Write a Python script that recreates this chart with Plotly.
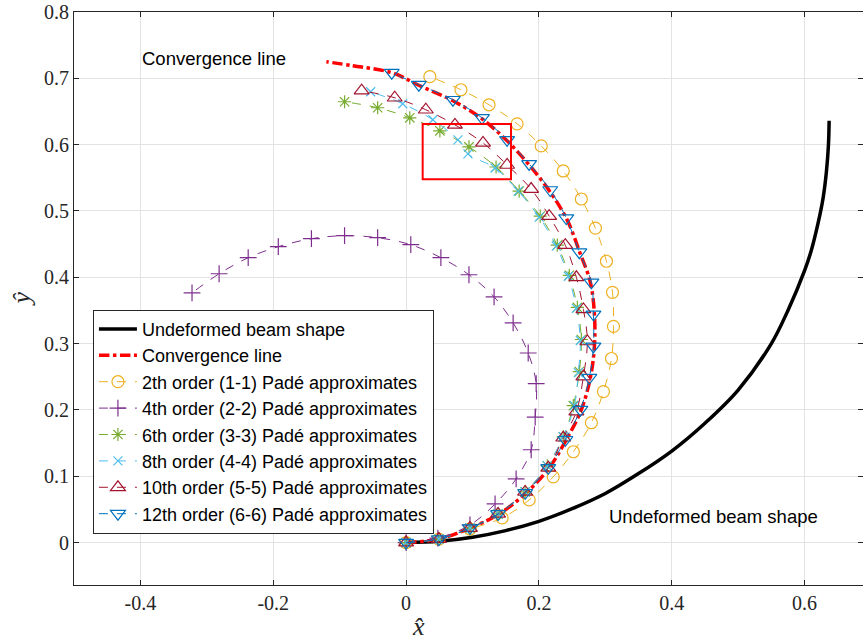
import plotly.graph_objects as go

# beam (undeformed) shape
beam_x = [0, 0.05, 0.1, 0.15, 0.2, 0.25, 0.3, 0.35, 0.4, 0.45, 0.5, 0.55, 0.575, 0.6, 0.61, 0.62, 0.628, 0.633, 0.636, 0.637]
beam_y = [0, 0.002, 0.008, 0.018, 0.032, 0.051, 0.074, 0.104, 0.138, 0.18, 0.23, 0.3, 0.35, 0.41, 0.44, 0.48, 0.52, 0.56, 0.6, 0.636]

conv_x = [0, 0.0494, 0.0962, 0.1400, 0.1808, 0.2155, 0.2412, 0.2639, 0.2775, 0.2836, 0.2836, 0.2775,
          0.2609, 0.2427, 0.2170, 0.1853, 0.1521, 0.1143, 0.0705, 0.0207, -0.0216, -0.0807, -0.1200]
conv_y = [0, 0.0053, 0.0219, 0.0431, 0.0749, 0.1127, 0.1550, 0.2004, 0.2487, 0.2957, 0.3441, 0.3924,
          0.4393, 0.4862, 0.5286, 0.5694, 0.6057, 0.6390, 0.6662, 0.6888, 0.7085, 0.7190, 0.7250]

p2_x = [0, 0.0494, 0.0962, 0.1446, 0.1854, 0.2216, 0.2519, 0.2790, 0.2972, 0.3093, 0.3123,
        0.3108, 0.3017, 0.2851, 0.2639, 0.2367, 0.2035, 0.1672, 0.1249, 0.0826, 0.0358]
p2_y = [0, 0.0053, 0.0204, 0.0371, 0.0643, 0.0991, 0.1369, 0.1807, 0.2276, 0.2775, 0.3259,
        0.3773, 0.4242, 0.4741, 0.5180, 0.5603, 0.5981, 0.6314, 0.6601, 0.6828, 0.7025]

p4_x = [0, 0.0479, 0.0962, 0.1340, 0.1657, 0.1884, 0.1944, 0.1959, 0.1839, 0.1612, 0.1325,
        0.0947, 0.0524, 0.0071, -0.0428, -0.0926, -0.1425, -0.1924, -0.2377, -0.2815, -0.3223]
p4_y = [0, 0.0068, 0.0265, 0.0582, 0.0960, 0.1399, 0.1890, 0.2397, 0.2858, 0.3312, 0.3705,
        0.4038, 0.4295, 0.4491, 0.4597, 0.4627, 0.4582, 0.4461, 0.4295, 0.4053, 0.3765]

p6_x = [0, 0.0494, 0.0962, 0.1385, 0.1793, 0.2126, 0.2367, 0.2518, 0.2609, 0.2639, 0.2579,
        0.2458, 0.2277, 0.2020, 0.1703, 0.1355, 0.0947, 0.0509, 0.0056, -0.0428, -0.0926]
p6_y = [0, 0.0053, 0.0219, 0.0431, 0.0764, 0.1157, 0.1595, 0.2064, 0.2578, 0.3062, 0.3546,
        0.4030, 0.4484, 0.4922, 0.5300, 0.5663, 0.5966, 0.6208, 0.6405, 0.6556, 0.6647]

p8_x = [0, 0.0494, 0.0962, 0.1385, 0.1793, 0.2126, 0.2367, 0.2534, 0.2594, 0.2624, 0.2564,
        0.2443, 0.2262, 0.2005, 0.1688, 0.1340, 0.0932, 0.0781, 0.0403, -0.0050, -0.0533]
p8_y = [0, 0.0053, 0.0219, 0.0431, 0.0764, 0.1157, 0.1595, 0.2064, 0.2563, 0.3047, 0.3531,
        0.4015, 0.4469, 0.4907, 0.5300, 0.5648, 0.5860, 0.6072, 0.6375, 0.6617, 0.6798]

p10_x = [0, 0.0494, 0.0962, 0.1385, 0.1793, 0.2141, 0.2367, 0.2564, 0.2670, 0.2730, 0.2670,
         0.2564, 0.2397, 0.2155, 0.1883, 0.1521, 0.1159, 0.0736, 0.0297, -0.0171, -0.0669]
p10_y = [0, 0.0053, 0.0219, 0.0431, 0.0764, 0.1127, 0.1580, 0.1973, 0.2503, 0.3032, 0.3516,
         0.4000, 0.4484, 0.4922, 0.5330, 0.5693, 0.6026, 0.6298, 0.6526, 0.6707, 0.6813]

p12_x = [0, 0.0494, 0.0962, 0.1385, 0.1793, 0.2141, 0.2398, 0.2624, 0.2760, 0.2821, 0.2821,
         0.2790, 0.2609, 0.2412, 0.2170, 0.1853, 0.1521, 0.1143, 0.0705, 0.0192, -0.0216]
p12_y = [0, 0.0053, 0.0219, 0.0431, 0.0749, 0.1127, 0.1550, 0.2004, 0.2487, 0.2957, 0.3441,
         0.3924, 0.4378, 0.4893, 0.5316, 0.5709, 0.6072, 0.6405, 0.6677, 0.6904, 0.7085]

# zoom box drawn on the plot
box_x = [0.025, 0.158]
box_y = [0.548, 0.631]

fig = go.Figure()

fig.add_trace(go.Scatter(x=beam_x, y=beam_y, mode='lines', name='Undeformed beam shape',
                         line=dict(color='black', width=3.5, shape='spline')))
fig.add_trace(go.Scatter(x=conv_x, y=conv_y, mode='lines', name='Convergence line',
                         line=dict(color='#FF0000', width=3.5, dash='dashdot', shape='spline')))

series = [
    (p2_x, p2_y, '2th order (1-1) Padé approximates', '#EDB120', 'circle-open', 12),
    (p4_x, p4_y, '4th order (2-2) Padé approximates', '#7E2F8E', 'cross-thin-open', 12),
    (p6_x, p6_y, '6th order (3-3) Padé approximates', '#77AC30', 'asterisk-open', 11),
    (p8_x, p8_y, '8th order (4-4) Padé approximates', '#4DBEEE', 'x-thin-open', 9),
    (p10_x, p10_y, '10th order (5-5) Padé approximates', '#A2142F', 'triangle-up-open', 13),
    (p12_x, p12_y, '12th order (6-6) Padé approximates', '#0072BD', 'triangle-down-open', 13),
]
for sx, sy, name, col, sym, size in series:
    fig.add_trace(go.Scatter(x=sx, y=sy, mode='lines+markers', name=name,
                             line=dict(color=col, width=1, dash='dash', shape='spline'),
                             marker=dict(symbol=sym, size=size, color=col, line=dict(color=col, width=1.2))))

fig.add_shape(type='rect', x0=box_x[0], x1=box_x[1], y0=box_y[0], y1=box_y[1],
              line=dict(color='#FF0000', width=2))

fig.add_annotation(x=-0.289, y=0.730, text='Convergence line', showarrow=False,
                   font=dict(family='Liberation Sans', size=18.5, color='black'))
fig.add_annotation(x=0.463, y=0.0386, text='Undeformed beam shape', showarrow=False,
                   font=dict(family='Liberation Sans', size=18.5, color='black'))

# axis titles as annotations so the margins stay fixed
fig.add_annotation(xref='paper', yref='paper', x=0.436, y=-0.072, yanchor='middle',
                   text='<i>x\u0302</i>', showarrow=False,
                   font=dict(family='Liberation Serif', size=26, color='#262626'))
fig.add_annotation(xref='paper', yref='paper', x=-0.066, y=0.5, xanchor='center',
                   text='<i>y\u0302</i>', showarrow=False, textangle=-90,
                   font=dict(family='Liberation Serif', size=26, color='#262626'))

axis_common = dict(showgrid=True, gridcolor='#E3E3E3', gridwidth=1, zeroline=False,
                   showline=True, linecolor='#262626', linewidth=1, mirror='allticks',
                   ticks='inside', ticklen=5, tickcolor='#262626', automargin=False,
                   tickfont=dict(family='Liberation Serif', size=20, color='#262626'))

fig.update_layout(
    width=863, height=641,
    margin=dict(l=74, r=0, t=12, b=56),
    plot_bgcolor='white', paper_bgcolor='white',
    xaxis=dict(range=[-0.5, 0.688], tickvals=[-0.4, -0.2, 0, 0.2, 0.4, 0.6],
               ticktext=['-0.4', '-0.2', '0', '0.2', '0.4', '0.6'], **axis_common),
    yaxis=dict(range=[-0.064, 0.8], tickvals=[0, 0.1, 0.2, 0.3, 0.4, 0.5, 0.6, 0.7, 0.8],
               ticktext=['0', '0.1', '0.2', '0.3', '0.4', '0.5', '0.6', '0.7', '0.8'], **axis_common),
    legend=dict(x=0.024, y=0.285, xanchor='left', yanchor='middle',
                bgcolor='white', bordercolor='#262626', borderwidth=1,
                font=dict(family='Liberation Sans', size=18, color='black'),
                tracegroupgap=0, itemwidth=38),
    showlegend=True,
)

# drop the default body margin so the figure fills the window
fig.write_html("out.html", config={'displayModeBar': False},
               post_script="document.body.style.margin='0';")
